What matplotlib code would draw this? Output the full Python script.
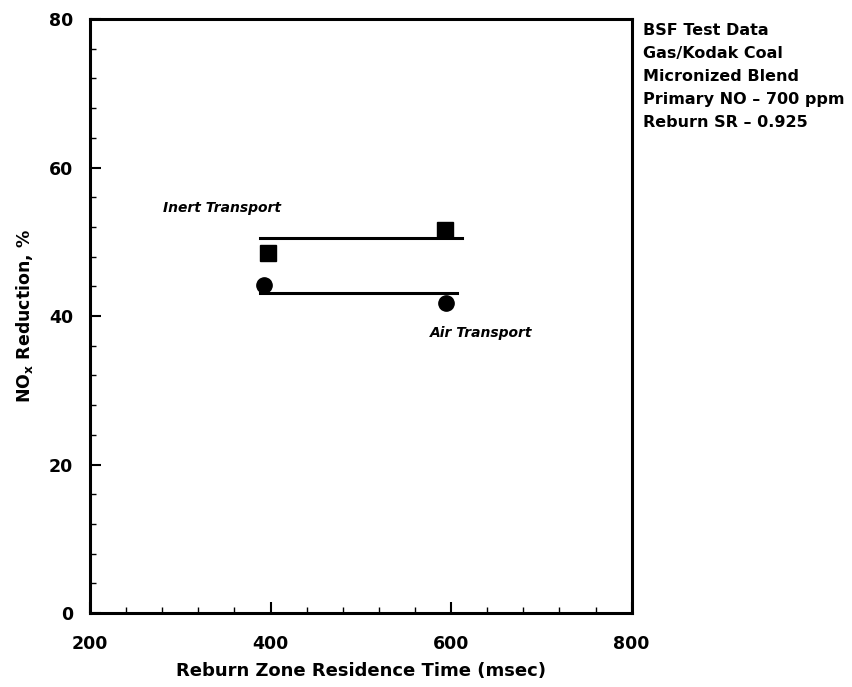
import numpy as np
import matplotlib
matplotlib.use("Agg")
import matplotlib.pyplot as plt
from matplotlib.ticker import MultipleLocator

plt.rcParams['font.family'] = ['DejaVu Sans']

# Inert transport (squares)
inert_x = [397, 593]
inert_y = [48.5, 51.6]
inert_line_x = [388, 612]
inert_line_y = [50.5, 50.5]

# Air transport (circles)
air_x = [393, 594]
air_y = [44.2, 41.8]
air_line_x = [388, 606]
air_line_y = [43.1, 43.1]

x_ticks = [200, 400, 600, 800]
y_ticks = [0, 20, 40, 60, 80]

notes = ["BSF Test Data", "Gas/Kodak Coal", "Micronized Blend",
         "Primary NO \u2013 700 ppm", "Reburn SR \u2013 0.925"]

fig = plt.figure(figsize=(8.53, 6.87), dpi=100)
ax = fig.add_axes([0.1055, 0.1077, 0.635, 0.8646])

ax.plot(inert_line_x, inert_line_y, color='black', lw=2.2)
ax.plot(air_line_x, air_line_y, color='black', lw=2.2)
ax.plot(inert_x, inert_y, 's', color='black', ms=11, ls='none')
ax.plot(air_x, air_y, 'o', color='black', ms=11, ls='none')

ax.text(281, 54.6, "Inert Transport", fontsize=10, style='italic',
        fontweight='bold', va='center', ha='left')
ax.text(576, 37.7, "Air Transport", fontsize=10, style='italic',
        fontweight='bold', va='center', ha='left')

ax.set_xlim(200, 800)
ax.set_ylim(0, 80)
ax.set_xticks(x_ticks)
ax.set_yticks(y_ticks)
ax.xaxis.set_minor_locator(MultipleLocator(40))
ax.yaxis.set_minor_locator(MultipleLocator(4))
ax.tick_params(which='major', direction='in', length=8, width=1.5,
               labelsize=12.5)
ax.tick_params(axis='x', which='major', pad=16)
ax.tick_params(axis='y', which='major', pad=12)
ax.tick_params(which='minor', direction='in', length=4, width=1)
for lbl in ax.get_xticklabels() + ax.get_yticklabels():
    lbl.set_fontweight('bold')
for sp in ax.spines.values():
    sp.set_linewidth(2.2)

ax.set_xlabel("Reburn Zone Residence Time (msec)", fontsize=13,
              fontweight='bold', labelpad=6)
ax.set_ylabel("NO$_\\mathbf{x}$ Reduction, %", fontsize=12.5,
              fontweight='bold', labelpad=10)

for i, t in enumerate(notes):
    fig.text(0.754, 0.966 - i * 0.0335, t, fontsize=11.5, fontweight='bold',
             va='top', ha='left')

fig.savefig("out.png", dpi=100)
